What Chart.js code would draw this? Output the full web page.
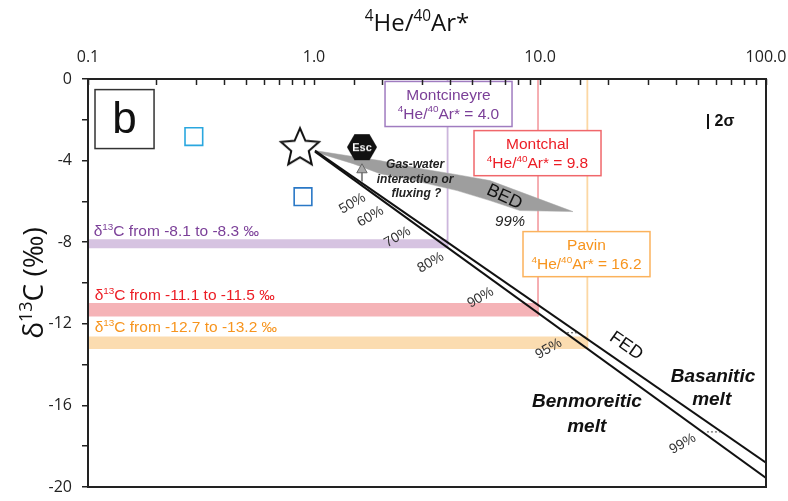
<!DOCTYPE html>
<html><head><meta charset="utf-8">
<script src="https://cdn.jsdelivr.net/npm/chart.js@4/dist/chart.umd.min.js"></script>
<style>html,body{margin:0;padding:0;background:#fff;}</style>
</head><body>
<canvas id="c" width="788" height="501"></canvas>
<script>
// ---------------- DATA ----------------
const xTickLabels = ['0.1', '1.0', '10.0', '100.0'];
const yTickLabels = ['0', '-4', '-8', '-12', '-16', '-20'];

const starX = [0.867], starY = [-3.39];
const sqLightX = [0.294], sqLightY = [-2.82];
const sqDarkX = [0.894], sqDarkY = [-5.77];
const escX = [1.63], escY = [-3.34];
const arrowX = [1.63, 1.63], arrowY = [-5.03, -4.45];

// FED mixing lines (basanitic / benmoreitic)
const fedBasX = [1.01, 100], fedBasY = [-3.51, -18.81];
const fedBenX = [1.01, 100], fedBenY = [-3.56, -19.56];

// BED field outline
const bedX = [1.010, 1.488, 1.959, 2.944, 4.293, 6.008, 13.99, 8.157, 6.008, 4.293, 2.659, 1.959, 1.488, 1.031];
const bedY = [-3.51, -3.80, -4.00, -4.39, -4.69, -4.98, -6.50, -6.45, -5.96, -5.47, -4.93, -4.64, -4.15, -3.61];

// small dashed markers between the FED lines
const dash1X = [13.17, 14.72], dash1Y = [-12.44, -12.44];
const dash2X = [54.8, 62.6], dash2Y = [-17.30, -17.30];

// lakes
const sites = ['Montcineyre', 'Montchal', 'Pavin'];
const siteRatio = [3.9, 9.8, 16.2];
const siteRatioLabel = ['4.0', '9.8', '16.2'];
const bandTop = [-7.85, -10.98, -12.62];
const bandBottom = [-8.30, -11.64, -13.23];
const bandRange = ['-8.1 to -8.3', '-11.1 to -11.5', '-12.7 to -13.2'];

const pctLabels = ['50%', '60%', '70%', '80%', '90%', '95%', '99%'];

// ---------------- STYLE / LAYOUT ----------------
const siteStyle = [
  {text: '#7b3f98', band: '#d6c3e1', vline: '#ccb6dc', border: '#a07cc0'},
  {text: '#ec1c24', band: '#f5b3b7', vline: '#f5a6aa', border: '#f0676b'},
  {text: '#f7941d', band: '#fbdcb0', vline: '#fcd7a3', border: '#fbb25c'}
];
const pctPos = [[1.472, -6.06], [1.769, -6.70], [2.329, -7.70], [3.262, -8.95], [5.426, -10.67], [10.85, -13.18], [42.5, -17.84]];
const bandLabelPos = [[0.106, -7.44], [0.107, -10.58], [0.107, -12.15]];
const siteBoxes = [
  [2.062, -0.12, 7.52, -2.33],
  [5.105, -2.53, 18.62, -4.74],
  [8.41, -7.48, 30.67, -9.69]
];
const panelBox = [0.1074, -0.52, 0.196, -3.41];
const notes = [
  {t: 'Gas-water', x: 2.8, y: -4.15, size: 12, weight: 'bold', style: 'italic', color: '#222'},
  {t: 'interaction or', x: 2.8, y: -4.88, size: 12, weight: 'bold', style: 'italic', color: '#222'},
  {t: 'fluxing ?', x: 2.84, y: -5.57, size: 12, weight: 'bold', style: 'italic', color: '#222'},
  {t: 'Benmoreitic', x: 16.14, y: -15.73, size: 19, weight: 'bold', style: 'italic', color: '#111'},
  {t: 'melt', x: 16.1, y: -16.96, size: 19, weight: 'bold', style: 'italic', color: '#111'},
  {t: 'Basanitic', x: 58.3, y: -14.5, size: 19, weight: 'bold', style: 'italic', color: '#111'},
  {t: 'melt', x: 57.5, y: -15.63, size: 19, weight: 'bold', style: 'italic', color: '#111'},
  {t: 'FED', x: 24.27, y: -13.03, size: 18, rot: 35, color: '#111'},
  {t: 'BED', x: 7.0, y: -5.72, size: 18, rot: 25, color: '#111'},
  {t: '99%', x: 7.37, y: -6.95, size: 15, style: 'italic', color: '#222'},
  {t: '| 2σ', x: 62.6, y: -2.04, size: 16, weight: 'bold', color: '#111'}
];
const ARIAL = '"Liberation Sans", Arial, sans-serif';
const AXISFONT = '"Open Sans", "Noto Sans", sans-serif';

// ---------------- HELPERS ----------------
const pts = (xs, ys) => xs.map((x, i) => ({x, y: ys[i]}));
function fontStr(o, size) {
  return `${o.style || 'normal'} ${o.weight || 'normal'} ${size}px ${o.family || ARIAL}`;
}
function parseRich(str) {
  const segs = []; const re = /\^\{([^}]*)\}/g; let last = 0, m;
  while ((m = re.exec(str))) {
    if (m.index > last) segs.push({t: str.slice(last, m.index)});
    segs.push({t: m[1], sup: true}); last = re.lastIndex;
  }
  if (last < str.length) segs.push({t: str.slice(last)});
  return segs;
}
function drawRich(ctx, str, x, cy, o) {
  const segs = parseRich(str);
  const size = o.size, ss = size * 0.64;
  const ws = []; let w = 0;
  for (const s of segs) { ctx.font = fontStr(o, s.sup ? ss : size); const m = ctx.measureText(s.t).width; ws.push(m); w += m; }
  let sx = o.align === 'left' ? x : o.align === 'right' ? x - w : x - w / 2;
  const base = cy + size * 0.36;
  ctx.fillStyle = o.color || '#000'; ctx.textAlign = 'left'; ctx.textBaseline = 'alphabetic';
  segs.forEach((s, i) => {
    ctx.font = fontStr(o, s.sup ? ss : size);
    ctx.fillText(s.t, sx, s.sup ? base - size * 0.40 : base);
    sx += ws[i];
  });
}
function makeStar() {
  const c = document.createElement('canvas'); c.width = 46; c.height = 46;
  const g = c.getContext('2d'); const cx = 23, cy = 23, R = 20, r = 9.2;
  g.beginPath();
  for (let i = 0; i < 10; i++) {
    const a = -Math.PI / 2 + i * Math.PI / 5; const rr = i % 2 ? r : R;
    g.lineTo(cx + rr * Math.cos(a), cy + rr * Math.sin(a));
  }
  g.closePath(); g.fillStyle = '#fff'; g.fill(); g.lineWidth = 2; g.strokeStyle = '#111'; g.stroke();
  return c;
}
function makeHex() {
  const c = document.createElement('canvas'); c.width = 34; c.height = 30;
  const g = c.getContext('2d'); const cx = 17, cy = 15, R = 15;
  g.beginPath();
  for (let i = 0; i < 6; i++) { const a = i * Math.PI / 3; g.lineTo(cx + R * Math.cos(a), cy + R * Math.sin(a)); }
  g.closePath(); g.fillStyle = '#111'; g.fill();
  g.fillStyle = '#fff'; g.font = 'bold 11px ' + ARIAL; g.textAlign = 'center'; g.textBaseline = 'middle';
  g.fillText('Esc', cx, cy + 0.5);
  return c;
}

// ---------------- DATASETS ----------------
const datasets = [];
sites.forEach((s, i) => {
  datasets.push({
    label: s + ' band', order: 30,
    data: [{x: 0.1, y: bandTop[i]}, {x: siteRatio[i], y: bandTop[i]}, {x: siteRatio[i], y: bandBottom[i]}, {x: 0.1, y: bandBottom[i]}],
    fill: 'shape', backgroundColor: siteStyle[i].band, borderColor: 'transparent', borderWidth: 0
  });
  datasets.push({
    label: s + ' ratio', order: 29,
    data: [{x: siteRatio[i], y: 0}, {x: siteRatio[i], y: bandBottom[i]}],
    borderColor: siteStyle[i].vline, borderWidth: 1.8, fill: false
  });
});
datasets.push({label: 'BED', order: 20, data: pts(bedX, bedY), fill: 'shape', backgroundColor: '#9e9e9e', borderColor: '#a8a8a8', borderWidth: 0.5});
datasets.push({label: 'FED basanitic', order: 10, data: pts(fedBasX, fedBasY), borderColor: '#111', borderWidth: 2, fill: false});
datasets.push({label: 'FED benmoreitic', order: 10, data: pts(fedBenX, fedBenY), borderColor: '#111', borderWidth: 2, fill: false});
datasets.push({label: 'dash1', order: 9, data: pts(dash1X, dash1Y), borderColor: '#444', borderWidth: 1, borderDash: [2, 2], fill: false});
datasets.push({label: 'dash2', order: 9, data: pts(dash2X, dash2Y), borderColor: '#444', borderWidth: 1, borderDash: [2, 2], fill: false});
datasets.push({label: 'arrow', order: 5, data: pts(arrowX, arrowY), borderColor: '#8a8a8a', borderWidth: 2, fill: false,
  pointRadius: [0, 6], pointStyle: 'triangle', pointBackgroundColor: '#a9a9a9', pointBorderColor: '#666', pointBorderWidth: 1});
datasets.push({label: 'sample light', order: 2, data: pts(sqLightX, sqLightY), showLine: false, pointStyle: 'rect', pointRadius: 12.5,
  pointBackgroundColor: '#fff', pointBorderColor: '#2aa7df', pointBorderWidth: 1.6});
datasets.push({label: 'sample dark', order: 2, data: pts(sqDarkX, sqDarkY), showLine: false, pointStyle: 'rect', pointRadius: 12.5,
  pointBackgroundColor: '#fff', pointBorderColor: '#2a78c6', pointBorderWidth: 1.6});
datasets.push({label: 'Esc', order: 1, data: pts(escX, escY), showLine: false, pointStyle: makeHex(), pointRadius: 14});
datasets.push({label: 'star', order: 1, data: pts(starX, starY), showLine: false, pointStyle: makeStar(), pointRadius: 20});

// ---------------- OVERLAY PLUGIN ----------------
const overlay = {
  id: 'overlay',
  afterDatasetsDraw(chart) {
    const {ctx, scales: {x, y}} = chart;
    const X = v => x.getPixelForValue(v), Y = v => y.getPixelForValue(v);
    ctx.save();
    sites.forEach((s, i) => {
      drawRich(ctx, 'δ^{13}C from ' + bandRange[i] + ' ‰', X(bandLabelPos[i][0]), Y(bandLabelPos[i][1]),
        {size: 15.5, color: siteStyle[i].text, align: 'left'});
    });
    pctLabels.forEach((p, i) => {
      ctx.save(); ctx.translate(X(pctPos[i][0]), Y(pctPos[i][1])); ctx.rotate(-30 * Math.PI / 180);
      drawRich(ctx, p, 0, 0, {size: 14, color: '#333'}); ctx.restore();
    });
    notes.forEach(n => {
      ctx.save(); ctx.translate(X(n.x), Y(n.y)); if (n.rot) ctx.rotate(n.rot * Math.PI / 180);
      drawRich(ctx, n.t, 0, 0, n); ctx.restore();
    });
    sites.forEach((s, i) => {
      const b = siteBoxes[i];
      const x1 = X(b[0]), y1 = Y(b[1]), x2 = X(b[2]), y2 = Y(b[3]);
      ctx.fillStyle = '#fff'; ctx.fillRect(x1, y1, x2 - x1, y2 - y1);
      ctx.lineWidth = 1.5; ctx.strokeStyle = siteStyle[i].border; ctx.strokeRect(x1, y1, x2 - x1, y2 - y1);
      const cx = (x1 + x2) / 2, cy = (y1 + y2) / 2;
      drawRich(ctx, s, cx, cy - 9.5, {size: 15.5, color: siteStyle[i].text});
      drawRich(ctx, '^{4}He/^{40}Ar* = ' + siteRatioLabel[i], cx, cy + 9, {size: 15.5, color: siteStyle[i].text});
    });
    {
      const b = panelBox; const x1 = X(b[0]), y1 = Y(b[1]), x2 = X(b[2]), y2 = Y(b[3]);
      ctx.fillStyle = '#fff'; ctx.fillRect(x1, y1, x2 - x1, y2 - y1);
      ctx.lineWidth = 1.5; ctx.strokeStyle = '#333'; ctx.strokeRect(x1, y1, x2 - x1, y2 - y1);
      ctx.font = '44px ' + ARIAL; ctx.fillStyle = '#111'; ctx.textAlign = 'center'; ctx.textBaseline = 'alphabetic';
      ctx.fillText('b', (x1 + x2) / 2, (y1 + y2) / 2 + 14);
    }
    ctx.restore();
  },
  afterDraw(chart) {
    const {ctx, chartArea: a, scales: {x}} = chart;
    ctx.save();
    ctx.strokeStyle = '#222'; ctx.lineWidth = 1.5;
    x.ticks.forEach(t => {
      const px = Math.round(x.getPixelForValue(t.value)) + 0.5;
      ctx.beginPath(); ctx.moveTo(px, a.top); ctx.lineTo(px, a.top + 6); ctx.stroke();
    });
    ctx.lineWidth = 2; ctx.strokeStyle = '#222';
    ctx.strokeRect(a.left, a.top, a.right - a.left, a.bottom - a.top);
    drawRich(ctx, '^{4}He/^{40}Ar*', (a.left + a.right) / 2 - 10, 22, {size: 24, color: '#111', family: AXISFONT});
    ctx.translate(33, (a.top + a.bottom) / 2); ctx.rotate(-Math.PI / 2);
    drawRich(ctx, 'δ^{13}C (‰)', 0, 0, {size: 28, color: '#111', family: AXISFONT});
    ctx.restore();
  }
};

// ---------------- CHART ----------------
new Chart(document.getElementById('c'), {
  type: 'line',
  data: {datasets},
  options: {
    responsive: false, animation: false, devicePixelRatio: 1, events: [],
    layout: {autoPadding: false, padding: {left: 0, right: 22, top: 0, bottom: 14}},
    elements: {point: {radius: 0}, line: {tension: 0}},
    plugins: {legend: {display: false}, tooltip: {enabled: false}},
    scales: {
      x: {
        type: 'logarithmic', position: 'top', min: 0.1, max: 100,
        grid: {display: false, drawTicks: false}, border: {display: false},
        ticks: {
          autoSkip: false, maxRotation: 0, padding: 12, color: '#222', font: {family: AXISFONT, size: 16},
          callback: v => { const l = Math.log10(v), k = Math.round(l); return Math.abs(l - k) < 1e-6 ? xTickLabels[k + 1] : ''; }
        },
        afterFit: s => { s.height = 79; s.paddingLeft = 0; s.paddingRight = 0; }
      },
      y: {
        type: 'linear', min: -20, max: 0,
        ticks: {stepSize: 2, padding: 10, color: '#222', font: {family: AXISFONT, size: 16},
          callback: v => (Math.round(v) % 4 === 0 ? yTickLabels[Math.round(-v / 4)] : '')},
        grid: {drawOnChartArea: false, drawTicks: true, tickLength: 6, color: '#222', lineWidth: 1.5},
        border: {display: false},
        afterFit: s => { s.width = 88; s.paddingTop = 0; s.paddingBottom = 0; }
      }
    }
  },
  plugins: [overlay]
});
</script>
</body></html>
